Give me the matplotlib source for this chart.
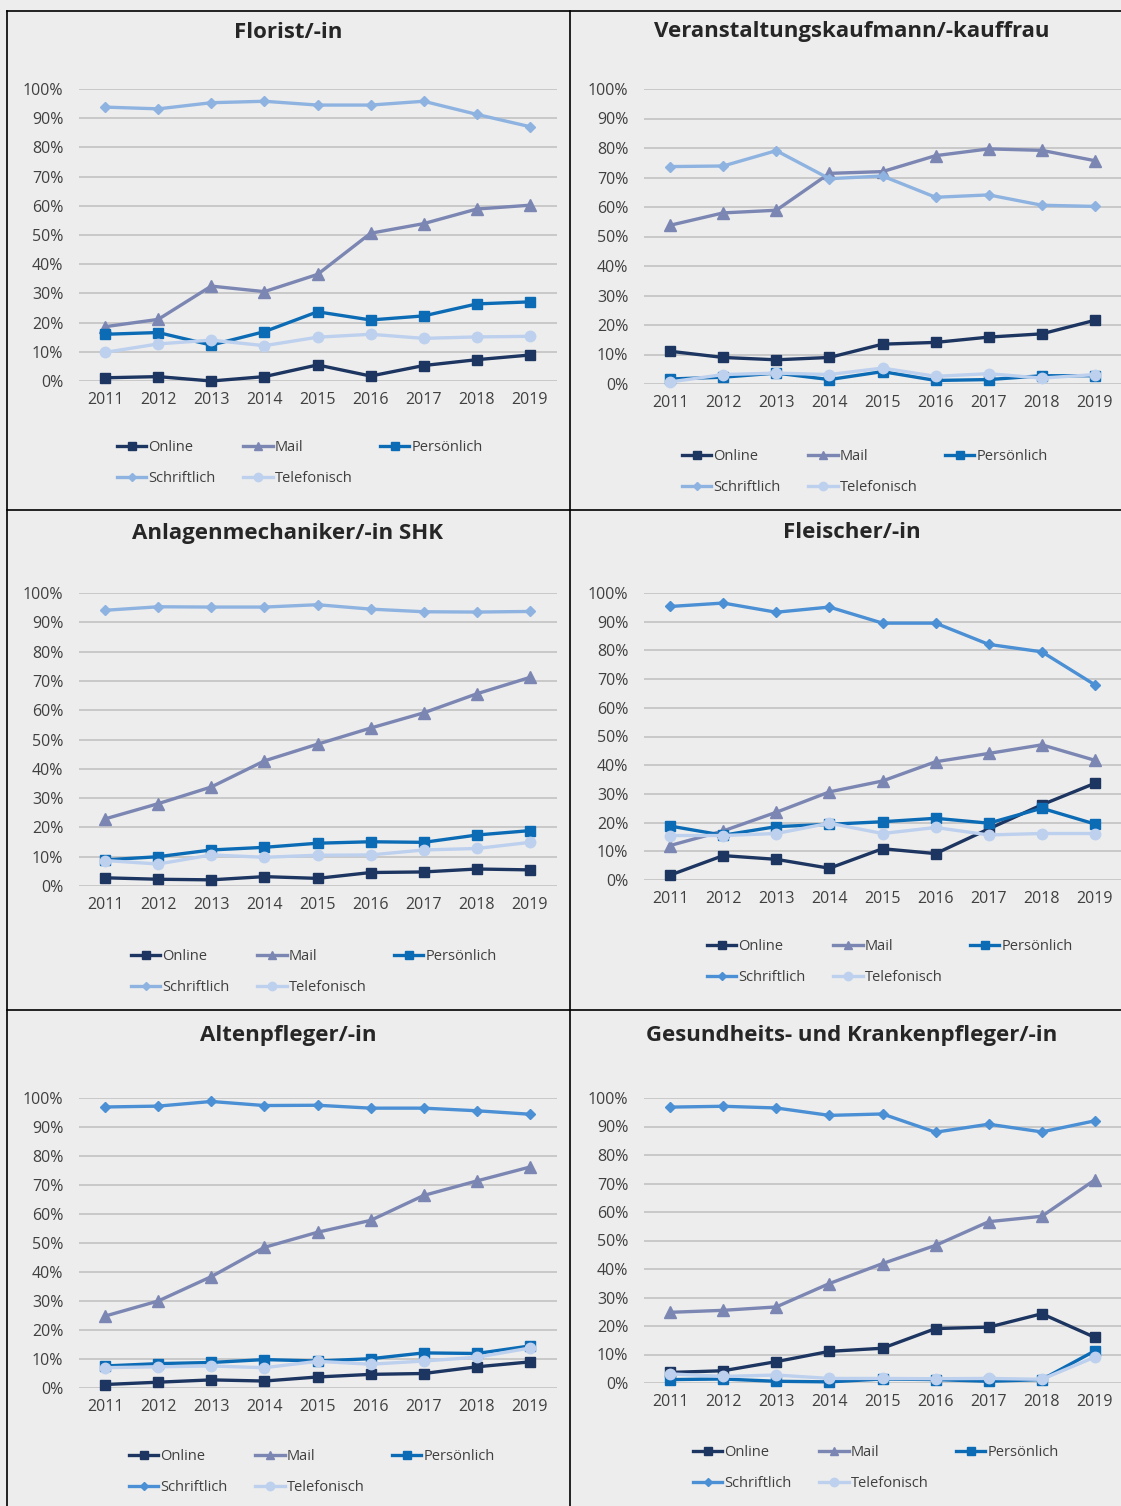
import matplotlib.pyplot as plt
from matplotlib.lines import Line2D

plt.rcParams['font.family'] = ['Open Sans', 'DejaVu Sans']

years = ['2011', '2012', '2013', '2014', '2015', '2016', '2017', '2018', '2019']
series_names = ['Online', 'Mail', 'Persönlich', 'Schriftlich', 'Telefonisch']

# Florist/-in
florist_online = [1.1, 1.5, 0.0, 1.5, 5.5, 1.7, 5.3, 7.3, 8.9]
florist_mail = [18.6, 21.1, 32.5, 30.6, 36.5, 50.6, 53.9, 58.9, 60.2]
florist_pers = [16.0, 16.6, 12.3, 16.9, 23.7, 20.9, 22.3, 26.4, 27.1]
florist_schrift = [93.8, 93.2, 95.3, 95.8, 94.5, 94.5, 95.8, 91.3, 87.1]
florist_tel = [9.8, 12.7, 14.0, 12.1, 15.0, 16.0, 14.6, 15.1, 15.3]

# Veranstaltungskaufmann/-kauffrau
veran_online = [11.1, 9.0, 8.2, 9.0, 13.5, 14.1, 15.9, 17.0, 21.6]
veran_mail = [53.8, 58.0, 58.9, 71.4, 72.0, 77.4, 79.7, 79.2, 75.7]
veran_pers = [1.7, 2.3, 3.7, 1.5, 4.2, 1.2, 1.5, 2.8, 2.8]
veran_schrift = [73.7, 73.9, 79.1, 69.6, 70.5, 63.3, 64.1, 60.6, 60.2]
veran_tel = [0.7, 3.2, 3.7, 3.2, 5.4, 2.6, 3.5, 2.0, 3.2]

# Anlagenmechaniker/-in SHK
anlagen_online = [2.8, 2.3, 2.1, 3.2, 2.6, 4.6, 4.8, 5.8, 5.5]
anlagen_mail = [22.9, 28.1, 33.8, 42.7, 48.4, 53.9, 59.1, 65.6, 71.2]
anlagen_pers = [8.9, 10.0, 12.3, 13.2, 14.6, 15.1, 14.9, 17.4, 18.9]
anlagen_schrift = [94.1, 95.3, 95.2, 95.2, 96.0, 94.5, 93.6, 93.5, 93.7]
anlagen_tel = [8.7, 7.5, 10.6, 9.8, 10.5, 10.6, 12.3, 12.8, 14.9]

# Fleischer/-in
fleischer_online = [1.7, 8.5, 7.2, 4.1, 10.9, 9.2, 17.8, 26.2, 33.7]
fleischer_mail = [12.0, 17.1, 23.6, 30.7, 34.5, 41.2, 44.1, 47.1, 41.7]
fleischer_pers = [18.8, 15.6, 18.6, 19.4, 20.3, 21.5, 19.8, 25.0, 19.5]
fleischer_schrift = [95.3, 96.5, 93.3, 95.1, 89.5, 89.5, 82.1, 79.5, 68.0]
fleischer_tel = [15.5, 15.5, 16.2, 19.8, 16.2, 18.3, 15.7, 16.2, 16.2]

# Altenpfleger/-in
alten_online = [1.2, 2.0, 2.8, 2.4, 3.8, 4.7, 5.0, 7.3, 9.0]
alten_mail = [24.8, 30.0, 38.4, 48.5, 53.7, 57.8, 66.4, 71.4, 76.2]
alten_pers = [7.6, 8.4, 8.8, 9.8, 9.3, 10.1, 12.1, 11.9, 14.5]
alten_schrift = [96.9, 97.2, 98.8, 97.4, 97.5, 96.5, 96.5, 95.6, 94.4]
alten_tel = [7.0, 7.3, 7.6, 7.0, 9.2, 8.2, 9.3, 10.6, 13.8]

# Gesundheits- und Krankenpfleger/-in
gesund_online = [3.7, 4.3, 7.5, 11.1, 12.2, 19.1, 19.6, 24.3, 16.0]
gesund_mail = [24.8, 25.5, 26.7, 34.9, 41.9, 48.3, 56.6, 58.5, 71.3]
gesund_pers = [1.2, 1.4, 0.6, 0.4, 1.4, 1.2, 0.6, 1.2, 11.3]
gesund_schrift = [96.8, 97.1, 96.5, 93.9, 94.4, 88.0, 90.8, 88.1, 92.0]
gesund_tel = [3.2, 2.3, 2.8, 1.6, 1.6, 1.5, 1.6, 1.3, 9.1]

W, H = 1121, 1506
BG = '#ededed'
TXT = '#404040'

c_online = '#1d3561'
c_mail = '#7b86b3'
c_pers = '#0c6bb5'
c_schrift_light = '#8eb3e1'
c_schrift_dark = '#4b8fd4'
c_tel = '#bdd0ee'

markers = ['s', '^', 's', 'D', 'o']
msizes = [7.5, 8, 7.5, 5.5, 7.5]

# title, data, schriftlich colour, axes box (left, right, top, bottom px), title pos, legend centre
panels = [
    ('Florist/-in', [florist_online, florist_mail, florist_pers, florist_schrift, florist_tel],
     c_schrift_light, (78.5, 556.5, 89, 381), 288, 32, (300, 463)),
    ('Veranstaltungskaufmann/-kauffrau', [veran_online, veran_mail, veran_pers, veran_schrift, veran_tel],
     c_schrift_light, (643.5, 1121.5, 89, 384), 852, 32, (865, 472)),
    ('Anlagenmechaniker/-in SHK', [anlagen_online, anlagen_mail, anlagen_pers, anlagen_schrift, anlagen_tel],
     c_schrift_light, (78.5, 556.5, 593, 886), 288, 533, (314, 972)),
    ('Fleischer/-in', [fleischer_online, fleischer_mail, fleischer_pers, fleischer_schrift, fleischer_tel],
     c_schrift_dark, (643.5, 1121.5, 593, 880), 852, 533, (890, 962)),
    ('Altenpfleger/-in', [alten_online, alten_mail, alten_pers, alten_schrift, alten_tel],
     c_schrift_dark, (78.5, 556.5, 1098, 1388), 288, 1036, (312, 1472)),
    ('Gesundheits- und Krankenpfleger/-in', [gesund_online, gesund_mail, gesund_pers, gesund_schrift, gesund_tel],
     c_schrift_dark, (643.5, 1121.5, 1098, 1383), 852, 1036, (876, 1468)),
]

fig = plt.figure(figsize=(W / 100, H / 100), dpi=100, facecolor=BG)

for title, data, c_schrift, box, tx, ty, leg in panels:
    l, r, t, b = box
    ax = fig.add_axes([l / W, 1 - b / H, (r - l) / W, (b - t) / H])
    ax.set_facecolor('none')
    colors = [c_online, c_mail, c_pers, c_schrift, c_tel]
    x = list(range(len(years)))
    handles = []
    for i, (vals, name) in enumerate(zip(data, series_names)):
        h, = ax.plot(x, vals, color=colors[i], lw=2.4, marker=markers[i], ms=msizes[i],
                     mec=colors[i], mfc=colors[i], label=name, clip_on=False, zorder=3 + i)
        handles.append(h)

    ax.set_xlim(-0.5, len(years) - 0.5)
    ax.set_ylim(0, 100)
    ax.set_yticks(range(0, 101, 10))
    ax.set_yticklabels([f'{v}%' for v in range(0, 101, 10)])
    ax.set_xticks(x)
    ax.set_xticklabels(years)
    ax.tick_params(length=0, labelsize=11.5, colors=TXT)
    ax.tick_params(axis='y', pad=11)
    ax.tick_params(axis='x', pad=8)
    for s in ax.spines.values():
        s.set_visible(False)
    ax.grid(axis='y', color='#c8c8c8', lw=1.4)
    ax.set_axisbelow(True)

    fig.text(tx / W, 1 - ty / H, title, ha='center', va='center', fontsize=16,
             fontweight='bold', color='#262626')

    # row-major order for a 3-column legend
    order = [0, 3, 1, 4, 2]
    ax.legend([handles[k] for k in order], [series_names[k] for k in order],
              loc='center', bbox_to_anchor=(leg[0] / W, 1 - leg[1] / H),
              bbox_transform=fig.transFigure, ncol=3, frameon=False, fontsize=10.5,
              labelcolor=TXT, handlelength=2.0, handletextpad=0.15, columnspacing=1.9,
              labelspacing=1.1, markerscale=0.8)

# panel frame lines
frame = dict(color='black', lw=1.2, transform=fig.transFigure)
fig.add_artist(Line2D([7 / W, 7 / W], [0, 1 - 11 / H], **frame))
fig.add_artist(Line2D([570 / W, 570 / W], [0, 1 - 11 / H], **frame))
fig.add_artist(Line2D([7 / W, 1], [1 - 11 / H, 1 - 11 / H], **frame))
fig.add_artist(Line2D([7 / W, 1], [1 - 510 / H, 1 - 510 / H], **frame))
fig.add_artist(Line2D([7 / W, 1], [1 - 1010 / H, 1 - 1010 / H], **frame))

fig.savefig('out.png', dpi=100, facecolor=BG)
